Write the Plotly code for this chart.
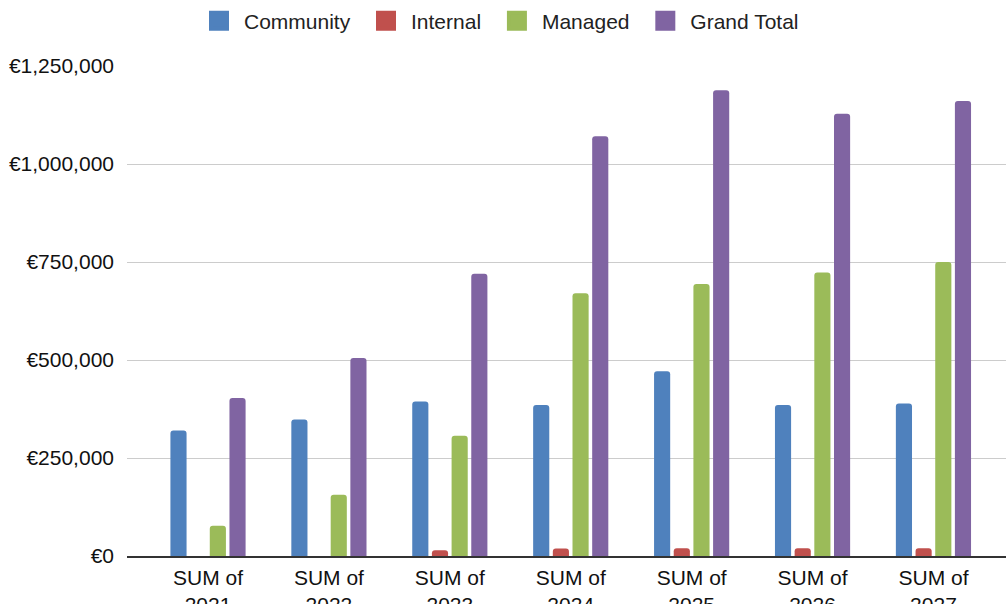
import plotly.graph_objects as go

years = ["2021", "2022", "2023", "2024", "2025", "2026", "2027"]
community = [320000, 348000, 394000, 385000, 471000, 385000, 389000]
internal = [0, 0, 14500, 19000, 20000, 20000, 20000]
managed = [77000, 156000, 307000, 670000, 694000, 723000, 750000]
grand_total = [403000, 505000, 720000, 1071000, 1188000, 1128000, 1161000]

series_names = ["Community", "Internal", "Managed", "Grand Total"]
series_colors = ["#4f81bd", "#c0504d", "#9bbb59", "#8064a2"]
y_ticks = [0, 250000, 500000, 750000, 1000000, 1250000]
y_tick_text = ["€0", "€250,000", "€500,000", "€750,000", "€1,000,000", "€1,250,000"]

categories = ["SUM of<br>" + y for y in years]
font_family = "Liberation Sans, Arial, sans-serif"

fig = go.Figure()
for name, vals, col in zip(series_names, [community, internal, managed, grand_total], series_colors):
    fig.add_trace(go.Bar(name=name, x=categories, y=vals, marker_color=col,
                         marker_line_width=0, showlegend=False, legendgroup=name))
for name, col in zip(series_names, series_colors):
    fig.add_trace(go.Scatter(name=name + "\u00a0", x=[None], y=[None], mode="markers",
                             marker=dict(symbol="square", size=16, color=col,
                                         line=dict(color=col, width=4)),
                             legendgroup=name, showlegend=True))

fig.update_layout(
    width=1006, height=604,
    margin=dict(l=127, r=0, t=66, b=48, autoexpand=False),
    paper_bgcolor="white", plot_bgcolor="white",
    barmode="group", bargap=0.349, bargroupgap=0.18,
    barcornerradius=3,
    font=dict(family=font_family, size=21, color="#222222"),
    showlegend=True,
    legend=dict(orientation="h", xref="container", yref="container",
                x=0.499, y=0.965, xanchor="center", yanchor="middle",
                font=dict(size=21, color="#222222"), itemwidth=40,
                traceorder="normal"),
    xaxis=dict(range=[-0.67, 6.6], showgrid=False, showline=True,
               linecolor="#333333", linewidth=1.5, ticks="",
               tickfont=dict(size=21, color="#111111"), ticklabelstandoff=2),
    yaxis=dict(range=[0, 1250000], tickvals=y_ticks, ticktext=y_tick_text,
               showgrid=True, gridcolor="#cccccc", gridwidth=1,
               zeroline=False, ticks="", ticklabelstandoff=12,
               tickfont=dict(size=21, color="#111111")),
)

fig.write_html("out.html", config={"displayModeBar": False},
               post_script="document.body.style.margin='0';document.body.style.overflow='hidden';")
